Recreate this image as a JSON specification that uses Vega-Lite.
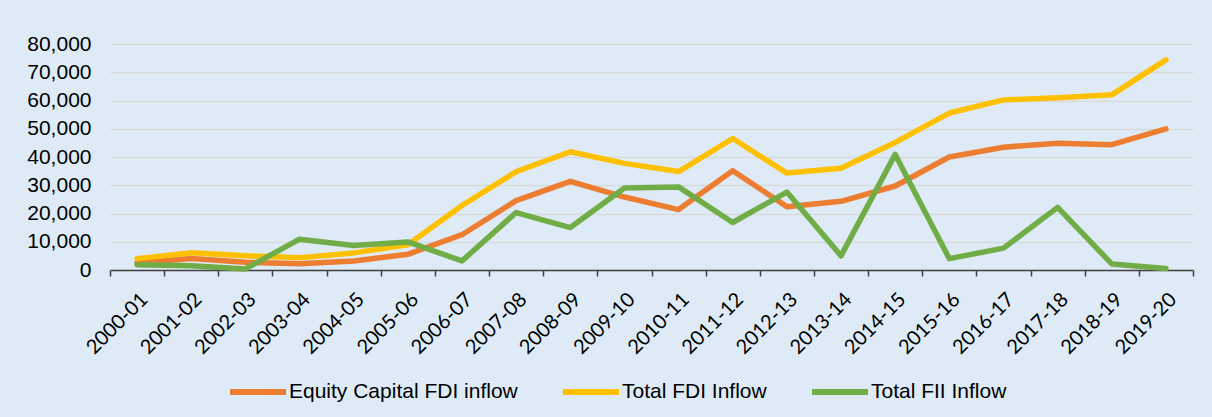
{
  "$schema": "https://vega.github.io/schema/vega-lite/v6.json",
  "width": 1083,
  "height": 226,
  "autosize": {"type": "none"},
  "padding": {"left": 110, "top": 44, "right": 19, "bottom": 147},
  "background": "#DEEBF7",
  "data": {
    "values": [
      {"year": "2000-01", "series": "Equity Capital FDI inflow", "value": 2463},
      {"year": "2001-02", "series": "Equity Capital FDI inflow", "value": 4065},
      {"year": "2002-03", "series": "Equity Capital FDI inflow", "value": 2705},
      {"year": "2003-04", "series": "Equity Capital FDI inflow", "value": 2188},
      {"year": "2004-05", "series": "Equity Capital FDI inflow", "value": 3219},
      {"year": "2005-06", "series": "Equity Capital FDI inflow", "value": 5540},
      {"year": "2006-07", "series": "Equity Capital FDI inflow", "value": 12492},
      {"year": "2007-08", "series": "Equity Capital FDI inflow", "value": 24575},
      {"year": "2008-09", "series": "Equity Capital FDI inflow", "value": 31396},
      {"year": "2009-10", "series": "Equity Capital FDI inflow", "value": 25834},
      {"year": "2010-11", "series": "Equity Capital FDI inflow", "value": 21383},
      {"year": "2011-12", "series": "Equity Capital FDI inflow", "value": 35121},
      {"year": "2012-13", "series": "Equity Capital FDI inflow", "value": 22423},
      {"year": "2013-14", "series": "Equity Capital FDI inflow", "value": 24299},
      {"year": "2014-15", "series": "Equity Capital FDI inflow", "value": 29737},
      {"year": "2015-16", "series": "Equity Capital FDI inflow", "value": 40001},
      {"year": "2016-17", "series": "Equity Capital FDI inflow", "value": 43478},
      {"year": "2017-18", "series": "Equity Capital FDI inflow", "value": 44857},
      {"year": "2018-19", "series": "Equity Capital FDI inflow", "value": 44366},
      {"year": "2019-20", "series": "Equity Capital FDI inflow", "value": 49977},
      {"year": "2000-01", "series": "Total FDI Inflow", "value": 4029},
      {"year": "2001-02", "series": "Total FDI Inflow", "value": 6130},
      {"year": "2002-03", "series": "Total FDI Inflow", "value": 5035},
      {"year": "2003-04", "series": "Total FDI Inflow", "value": 4322},
      {"year": "2004-05", "series": "Total FDI Inflow", "value": 6051},
      {"year": "2005-06", "series": "Total FDI Inflow", "value": 8961},
      {"year": "2006-07", "series": "Total FDI Inflow", "value": 22826},
      {"year": "2007-08", "series": "Total FDI Inflow", "value": 34843},
      {"year": "2008-09", "series": "Total FDI Inflow", "value": 41873},
      {"year": "2009-10", "series": "Total FDI Inflow", "value": 37745},
      {"year": "2010-11", "series": "Total FDI Inflow", "value": 34847},
      {"year": "2011-12", "series": "Total FDI Inflow", "value": 46556},
      {"year": "2012-13", "series": "Total FDI Inflow", "value": 34298},
      {"year": "2013-14", "series": "Total FDI Inflow", "value": 36046},
      {"year": "2014-15", "series": "Total FDI Inflow", "value": 45148},
      {"year": "2015-16", "series": "Total FDI Inflow", "value": 55559},
      {"year": "2016-17", "series": "Total FDI Inflow", "value": 60220},
      {"year": "2017-18", "series": "Total FDI Inflow", "value": 60974},
      {"year": "2018-19", "series": "Total FDI Inflow", "value": 62001},
      {"year": "2019-20", "series": "Total FDI Inflow", "value": 74391},
      {"year": "2000-01", "series": "Total FII Inflow", "value": 1847},
      {"year": "2001-02", "series": "Total FII Inflow", "value": 1505},
      {"year": "2002-03", "series": "Total FII Inflow", "value": 377},
      {"year": "2003-04", "series": "Total FII Inflow", "value": 10918},
      {"year": "2004-05", "series": "Total FII Inflow", "value": 8686},
      {"year": "2005-06", "series": "Total FII Inflow", "value": 9926},
      {"year": "2006-07", "series": "Total FII Inflow", "value": 3225},
      {"year": "2007-08", "series": "Total FII Inflow", "value": 20328},
      {"year": "2008-09", "series": "Total FII Inflow", "value": 15017},
      {"year": "2009-10", "series": "Total FII Inflow", "value": 29048},
      {"year": "2010-11", "series": "Total FII Inflow", "value": 29422},
      {"year": "2011-12", "series": "Total FII Inflow", "value": 16812},
      {"year": "2012-13", "series": "Total FII Inflow", "value": 27582},
      {"year": "2013-14", "series": "Total FII Inflow", "value": 5009},
      {"year": "2014-15", "series": "Total FII Inflow", "value": 40923},
      {"year": "2015-16", "series": "Total FII Inflow", "value": 4016},
      {"year": "2016-17", "series": "Total FII Inflow", "value": 7735},
      {"year": "2017-18", "series": "Total FII Inflow", "value": 22165},
      {"year": "2018-19", "series": "Total FII Inflow", "value": 2156},
      {"year": "2019-20", "series": "Total FII Inflow", "value": 552}
    ]
  },
  "mark": {"type": "line", "strokeWidth": 5.5, "strokeCap": "round", "strokeJoin": "round"},
  "encoding": {
    "x": {
      "field": "year",
      "type": "ordinal",
      "sort": null,
      "bandPosition": 0.5,
      "scale": {"type": "band", "paddingInner": 0, "paddingOuter": 0},
      "axis": {
        "title": null,
        "labelAngle": -45,
        "labelFont": "Lato",
        "labelFontSize": 20,
        "labelColor": "#000000",
        "labelPadding": 13,
        "tickBand": "extent",
        "tickSize": 6,
        "tickColor": "#404040",
        "domainColor": "#404040",
        "domainWidth": 1.5,
        "tickWidth": 1.5,
        "grid": false
      }
    },
    "y": {
      "field": "value",
      "type": "quantitative",
      "scale": {"domain": [0, 80000], "nice": false},
      "axis": {
        "title": null,
        "values": [0, 10000, 20000, 30000, 40000, 50000, 60000, 70000, 80000],
        "format": ",d",
        "domain": false,
        "ticks": false,
        "grid": true,
        "gridColor": "#D9D9D9",
        "gridWidth": 1.5,
        "labelFont": "Liberation Sans",
        "labelFontSize": 21,
        "labelColor": "#000000",
        "labelPadding": 19
      }
    },
    "color": {
      "field": "series",
      "type": "nominal",
      "sort": null,
      "scale": {
        "domain": ["Equity Capital FDI inflow", "Total FDI Inflow", "Total FII Inflow"],
        "range": ["#ED7D31", "#FFC000", "#70AD47"]
      },
      "legend": {
        "title": null,
        "orient": "none",
        "direction": "horizontal",
        "legendX": 117,
        "legendY": 317,
        "symbolType": "stroke",
        "symbolSize": 3136,
        "symbolStrokeWidth": 6,
        "labelFont": "Liberation Sans",
        "labelFontSize": 21,
        "labelColor": "#000000",
        "labelOffset": 0,
        "columnPadding": 33,
        "labelLimit": 400
      }
    }
  },
  "config": {"view": {"stroke": null}}
}
